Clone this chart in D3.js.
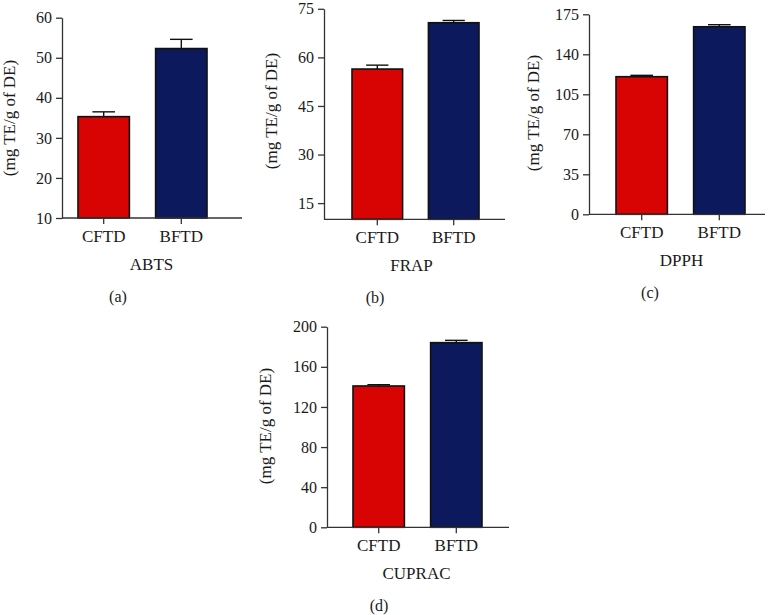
<!DOCTYPE html>
<html>
<head>
<meta charset="utf-8">
<script src="https://cdn.jsdelivr.net/npm/d3@7"></script>
<style>
  body { margin: 0; background: #fff; }
  text { font-family: "Liberation Serif", "Times New Roman", serif; fill: #1a1a1a; }
</style>
</head>
<body>
<div id="chart"></div>
<script>
// categories + values
let categories = ["CFTD", "BFTD"];
let abts_values = [35.3, 52.3];
let abts_errors = [1.2, 2.3];
let frap_values = [56.4, 70.7];
let frap_errors = [1.2, 0.7];
let dpph_values = [120.4, 164.1];
let dpph_errors = [1.2, 1.8];
let cuprac_values = [140.9, 184.1];
let cuprac_errors = [1.3, 2.3];

let abts_ticks = [10, 20, 30, 40, 50, 60];
let frap_ticks = [15, 30, 45, 60, 75];
let dpph_ticks = [0, 35, 70, 105, 140, 175];
let cuprac_ticks = [0, 40, 80, 120, 160, 200];

let bar_colors = ["#d80404", "#0c195c"];
let y_label = "(mg TE/g of DE)";

let svg = d3.select("#chart")
            .append("svg")
            .attr("width", 773)
            .attr("height", 615);

// panel layout: axis origin, sizes, bar offset
let panels = [
    { values: abts_values, errors: abts_errors, ticks: abts_ticks, domain: [10, 60],
      name: "ABTS", letter: "(a)", x0: 62, y0: 218, w: 180, h: 200.3, bar0: 16, bar1: 145,
      title_x: 151.5, letter_x: 118, label_x: 9, label_y: 118 },
    { values: frap_values, errors: frap_errors, ticks: frap_ticks, domain: [10, 75],
      name: "FRAP", letter: "(b)", x0: 324, y0: 219.3, w: 181, h: 210.5, bar0: 28, bar1: 155,
      title_x: 411.5, letter_x: 375, label_x: 271, label_y: 111 },
    { values: dpph_values, errors: dpph_errors, ticks: dpph_ticks, domain: [0, 175],
      name: "DPPH", letter: "(c)", x0: 589, y0: 214.3, w: 176, h: 200, bar0: 27, bar1: 156,
      title_x: 681.5, letter_x: 650, label_x: 533, label_y: 113 },
    { values: cuprac_values, errors: cuprac_errors, ticks: cuprac_ticks, domain: [0, 200],
      name: "CUPRAC", letter: "(d)", x0: 327, y0: 527.3, w: 182, h: 200.6, bar0: 26, bar1: 155,
      title_x: 416.5, letter_x: 379, label_x: 265, label_y: 426 }
];

function draw_panel(p) {

    let g = svg.append("g")
               .attr("transform", "translate(" + p.x0 + "," + p.y0 + ")");

    let xScale = d3.scaleBand()
                   .domain(categories)
                   .range([p.bar0, p.bar1])
                   .paddingInner(0.338);

    let yScale = d3.scaleLinear()
                   .domain(p.domain)
                   .range([0, -p.h]);

    // bars
    g.selectAll(".bar")
     .data(categories)
     .enter()
     .append("rect")
     .attr("class", "bar")
     .attr("x", d => xScale(d))
     .attr("width", xScale.bandwidth())
     .attr("y", (d, i) => yScale(p.values[i]))
     .attr("height", (d, i) => yScale(p.domain[0]) - yScale(p.values[i]))
     .style("fill", (d, i) => bar_colors[i])
     .attr("stroke", "#111")
     .attr("stroke-width", 1.6);

    // upper error bars
    let cap = xScale.bandwidth() * 0.22;
    categories.forEach(function(c, i) {
        let cx = xScale(c) + xScale.bandwidth() / 2;
        g.append("line")
         .attr("x1", cx).attr("x2", cx)
         .attr("y1", yScale(p.values[i]))
         .attr("y2", yScale(p.values[i] + p.errors[i]))
         .attr("stroke", "#111").attr("stroke-width", 1.4);
        g.append("line")
         .attr("x1", cx - cap).attr("x2", cx + cap)
         .attr("y1", yScale(p.values[i] + p.errors[i]))
         .attr("y2", yScale(p.values[i] + p.errors[i]))
         .attr("stroke", "#111").attr("stroke-width", 1.4);
    });

    // y axis
    let y_axis = g.append("g")
                  .attr("class", "y axis")
                  .call(d3.axisLeft(yScale).tickValues(p.ticks).tickSize(6).tickSizeOuter(0).tickPadding(4));

    // x axis
    let x_axis = g.append("g")
                  .attr("class", "x axis")
                  .call(d3.axisBottom(xScale).tickSize(6).tickSizeOuter(0).tickPadding(6));
    x_axis.select(".domain").attr("d", "M0,0H" + p.w);

    svg.selectAll(".axis .domain, .axis line").attr("stroke", "#333").attr("stroke-width", 1.3);
    y_axis.selectAll("text").style("font-size", "16px").attr("fill", "#1a1a1a");
    x_axis.selectAll("text").style("font-size", "17px").attr("fill", "#1a1a1a");

    g.append("text")
     .attr("x", p.title_x - p.x0)
     .attr("y", 52)
     .attr("text-anchor", "middle")
     .style("font-size", "17px")
     .text(p.name);

    g.append("text")
     .attr("x", p.letter_x - p.x0)
     .attr("y", 84)
     .attr("text-anchor", "middle")
     .style("font-size", "16px")
     .text(p.letter);

    svg.append("text")
       .attr("transform", "translate(" + (p.label_x + 6) + "," + p.label_y + ") rotate(-90)")
       .attr("text-anchor", "middle")
       .style("font-size", "17px")
       .text(y_label);
}

panels.forEach(draw_panel);
</script>
</body>
</html>
